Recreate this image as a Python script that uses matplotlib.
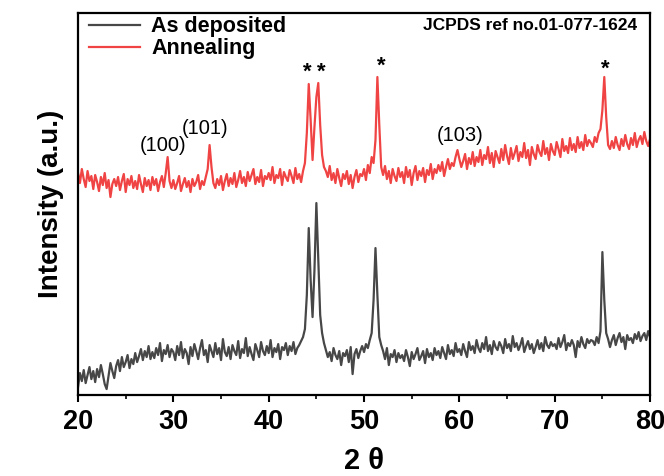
import numpy as np
import matplotlib.pyplot as plt
from matplotlib.ticker import MultipleLocator

plt.rcParams['font.family'] = ['Liberation Sans', 'DejaVu Sans']

# 2 theta grid, 20..80 step 0.2
two_theta = np.linspace(20, 80, 301)

# intensities (a.u.)
as_deposited = [
    8, 22, 14, 25, 12, 20, 28, 16, 24, 13,
    26, 18, 30, 21, 11, 6, 19, 32, 24, 17,
    29, 35, 24, 38, 28, 33, 40, 27, 36, 31,
    42, 33, 39, 46, 35, 44, 38, 49, 36, 43,
    37, 47, 40, 52, 34, 45, 41, 50, 38, 46,
    43, 35, 49, 40, 53, 37, 46, 42, 31, 48,
    39, 51, 44, 36, 47, 55, 40, 45, 33, 50,
    44, 38, 52, 41, 47, 35, 56, 43, 39, 48,
    36, 50, 44, 40, 54, 37, 46, 42, 57, 39,
    48, 41, 35, 51, 45, 38, 53, 44, 40, 49,
    42, 55, 38, 47, 43, 51, 36, 48, 45, 52,
    40, 49, 44, 53, 41, 47, 50, 54, 58, 66,
    100, 167, 115, 78, 125, 192, 135, 80, 62, 52,
    45, 38, 43, 34, 47, 40, 36, 44, 30, 42,
    39, 45, 33, 48, 21, 41, 46, 37, 44, 49,
    43, 51, 47, 55, 62, 95, 147, 100, 58, 50,
    44, 36, 47, 30, 41, 38, 45, 33, 42, 37,
    40, 34, 45, 38, 29, 43, 36, 41, 47, 35,
    39, 44, 32, 46, 38, 42, 35, 47, 40, 44,
    37, 48, 42, 36, 50, 41, 45, 39, 52, 43,
    46, 40, 51, 44, 38, 53, 45, 49, 42, 55,
    47, 43, 52, 46, 58, 44, 50, 41, 54, 48,
    45, 53, 49, 42, 56, 47, 51, 44, 59, 48,
    52, 45, 50, 57, 43, 49, 54, 46, 51, 42,
    48, 55, 46, 52, 44, 58, 50, 47, 53, 49,
    51, 46, 57, 48, 53, 60, 45, 52, 49, 55,
    50, 38, 54, 48, 58, 51, 47, 56, 52, 55,
    54, 50, 58, 52, 64, 143, 95, 62, 56, 48,
    55, 60, 50, 57, 62, 53, 58, 46, 60, 55,
    57, 52, 61, 56, 63, 54, 59, 62, 55, 64,
    58,
]

annealing = [
    222, 212, 226, 216, 208, 224, 214, 219, 206, 220,
    213, 204, 218, 210, 222, 207, 215, 198, 211, 216,
    209, 218, 205, 214, 221, 203, 216, 210, 219, 207,
    214, 206, 220, 211, 203, 217, 209, 215, 205, 218,
    210, 216, 204, 213, 219, 208, 222, 238, 214, 207,
    215, 206, 212, 219, 204, 211, 217, 208, 214, 203,
    216, 209, 213, 220, 206, 214, 210, 218, 226, 250,
    228, 212, 207, 216, 210, 219, 205, 214, 221, 209,
    217, 211, 222, 208, 215, 224, 212, 218, 209, 223,
    214, 220, 226, 211, 218, 213, 225, 209, 219, 216,
    222, 215, 228, 212, 220, 217, 226, 210, 223, 218,
    214, 225, 219, 212, 227, 216, 221, 213, 224, 232,
    262, 311, 275, 235, 268, 298, 312, 270, 240, 228,
    224, 218, 229, 215, 222, 212, 226, 217, 209, 221,
    216, 224, 211, 220, 207, 218, 225, 213, 221, 219,
    226, 215, 230, 222, 238, 232, 255, 318, 270, 228,
    220, 229, 216, 224, 212, 226, 219, 214, 227, 218,
    223, 212, 228, 218, 225, 210, 222, 229, 215, 224,
    219, 227, 213, 225, 220, 231, 216, 226, 222, 230,
    224, 233, 219, 228, 236, 226, 232, 229, 238, 245,
    236, 228, 234, 241, 226, 237, 231, 243, 229, 238,
    233, 245, 230, 240, 236, 248, 232, 242, 228, 244,
    238, 232, 246, 235, 250, 239, 231, 247, 236, 242,
    249, 234, 243, 238, 252, 237, 245, 230, 248, 241,
    236, 250, 243, 239, 254, 241, 247, 235, 251, 244,
    240, 253, 246, 238, 256, 244, 249, 242, 257, 245,
    251, 243, 258, 247, 253, 245, 260, 249, 255, 252,
    248, 258, 253, 262, 266, 285, 318, 278, 250, 246,
    254, 247, 258, 250, 245, 256, 249, 260, 251, 246,
    257, 250, 262, 248, 255, 259, 251, 263, 254, 249,
    256,
]

hkl_labels = ['(100)', '(101)', '(103)']
hkl_x = [28.9, 33.3, 60.1]
hkl_y = [240, 257, 250]

star_x = [44.0, 45.5, 51.8, 75.3]
star_y = [312, 312, 318, 315]

fig = plt.figure(figsize=(6.64, 4.76), dpi=100)
ax = fig.add_axes([0.1175, 0.170, 0.8615, 0.8027])

ax.plot(two_theta, as_deposited, color='#474747', lw=1.6, label='As deposited')
ax.plot(two_theta, annealing, color='#f04444', lw=1.6, label='Annealing')

for lab, x, y in zip(hkl_labels, hkl_x, hkl_y):
    ax.text(x, y, lab, ha='center', va='bottom', fontsize=14.5)
for x, y in zip(star_x, star_y):
    ax.text(x, y, '*', ha='center', va='bottom', fontsize=16, fontweight='bold')

ax.text(0.977, 0.967, 'JCPDS ref no.01-077-1624', transform=ax.transAxes,
        ha='right', va='center', fontsize=12.5, fontweight='bold')

leg = ax.legend(loc='upper left', bbox_to_anchor=(0.0, 1.02), frameon=False,
                fontsize=15.5, handlelength=2.4, borderaxespad=0.1,
                labelspacing=0.05, handletextpad=0.5)
for t in leg.get_texts():
    t.set_fontweight('bold')

ax.set_xlim(20, 80)
ax.set_ylim(0, 382)
ax.set_yticks([])
ax.xaxis.set_major_locator(MultipleLocator(10))
ax.xaxis.set_minor_locator(MultipleLocator(5))
ax.tick_params(axis='x', which='major', direction='out', length=5, width=1.5,
               labelsize=19.5, pad=5)
ax.tick_params(axis='x', which='minor', direction='out', length=3, width=1.2)
for lab in ax.get_xticklabels():
    lab.set_fontweight('bold')
for s in ax.spines.values():
    s.set_linewidth(1.6)

ax.set_xlabel('2 θ', fontsize=21, fontweight='bold', labelpad=9)
ax.set_ylabel('Intensity (a.u.)', fontsize=20, fontweight='bold', labelpad=10)

fig.savefig('out.png', dpi=100)
